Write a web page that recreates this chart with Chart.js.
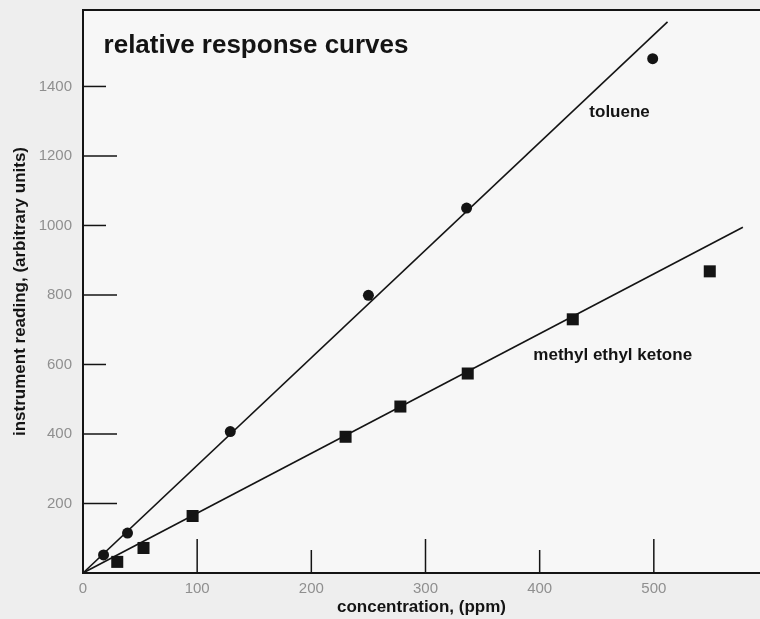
<!DOCTYPE html>
<html>
<head>
<meta charset="utf-8">
<script src="https://cdn.jsdelivr.net/npm/chart.js@4.4.1/dist/chart.umd.min.js"></script>
<style>
  html, body { margin: 0; padding: 0; background: #eeeeee; overflow: hidden; }
  #wrap { width: 760px; height: 619px; }
</style>
</head>
<body>
<div id="wrap"><canvas id="responseChart" width="760" height="619"></canvas></div>
<script>
// concentration (ppm) -> instrument reading (arbitrary units)
const tolueneX = [18, 39, 129, 250, 336, 499];
const tolueneY = [52, 115, 407, 799, 1050, 1480];
const mekX = [30, 53, 96, 230, 278, 337, 429, 549];
const mekY = [32, 72, 164, 392, 479, 574, 730, 868];

// fitted lines through the origin, start and end
const tolueneFitX = [0, 512];
const tolueneFitY = [0, 1586];
const mekFitX = [0, 578];
const mekFitY = [0, 995];

const xTicks = [0, 100, 200, 300, 400, 500];
const yTicks = [200, 400, 600, 800, 1000, 1200, 1400];

const FONT = '"Liberation Sans", Arial, sans-serif';
const INK = '#141414';

// which of the inward tick marks are the long ones
const longTicks = { x: [100, 300, 500], y: [200, 400, 800, 1200] };

// text written inside the plot, placed in data units
const notes = [
  { text: 'relative response curves', x: 18, y: 1517, size: 26, align: 'left' },
  { text: 'toluene', x: 470, y: 1327, size: 17, align: 'center' },
  { text: 'methyl ethyl ketone', x: 464, y: 626, size: 17, align: 'center' }
];

const toPoints = (xs, ys) => xs.map((x, i) => ({ x: x, y: ys[i] }));

// keep the plot box fixed, no extra room for the end labels
const noPadding = (s) => {
  s.paddingLeft = 0;
  s.paddingRight = 0;
  s.paddingTop = 0;
  s.paddingBottom = 0;
};

const paperAxes = {
  id: 'paperAxes',
  beforeDraw(chart) {
    const { ctx, chartArea: a } = chart;
    ctx.save();
    ctx.fillStyle = '#eeeeee';
    ctx.fillRect(0, 0, chart.width, chart.height);
    ctx.fillStyle = '#f7f7f7';
    ctx.fillRect(a.left, a.top, a.right - a.left, a.bottom - a.top);
    ctx.restore();
  },
  afterDraw(chart) {
    const { ctx, chartArea: a, scales } = chart;
    ctx.save();
    ctx.strokeStyle = INK;

    // top frame line
    ctx.lineWidth = 2;
    ctx.beginPath();
    ctx.moveTo(a.left, a.top);
    ctx.lineTo(a.right, a.top);
    ctx.stroke();

    // tick marks pointing into the plot
    ctx.lineWidth = 1.5;
    xTicks.forEach((v) => {
      if (v === 0) return;
      const px = scales.x.getPixelForValue(v);
      const len = longTicks.x.includes(v) ? 34 : 23;
      ctx.beginPath();
      ctx.moveTo(px, a.bottom);
      ctx.lineTo(px, a.bottom - len);
      ctx.stroke();
    });
    yTicks.forEach((v) => {
      const py = scales.y.getPixelForValue(v);
      const len = longTicks.y.includes(v) ? 34 : 23;
      ctx.beginPath();
      ctx.moveTo(a.left, py);
      ctx.lineTo(a.left + len, py);
      ctx.stroke();
    });

    // labels
    ctx.fillStyle = INK;
    ctx.textBaseline = 'middle';
    notes.forEach((n) => {
      ctx.font = 'bold ' + n.size + 'px ' + FONT;
      ctx.textAlign = n.align;
      ctx.fillText(n.text, scales.x.getPixelForValue(n.x), scales.y.getPixelForValue(n.y));
    });
    ctx.restore();
  }
};

const initResponseChart = () => {
  const ctx = document.getElementById('responseChart');
  if (!ctx)
    return;

  Chart.defaults.font.family = FONT;

  const data = {
    datasets: [
      {
        label: 'toluene fit',
        data: toPoints(tolueneFitX, tolueneFitY),
        showLine: true,
        pointRadius: 0,
        borderColor: INK,
        borderWidth: 1.6
      },
      {
        label: 'methyl ethyl ketone fit',
        data: toPoints(mekFitX, mekFitY),
        showLine: true,
        pointRadius: 0,
        borderColor: INK,
        borderWidth: 1.6
      },
      {
        label: 'toluene',
        data: toPoints(tolueneX, tolueneY),
        pointStyle: 'circle',
        pointRadius: 5.5,
        backgroundColor: INK,
        borderWidth: 0
      },
      {
        label: 'methyl ethyl ketone',
        data: toPoints(mekX, mekY),
        pointStyle: 'rect',
        pointRadius: 8.5,
        backgroundColor: INK,
        borderWidth: 0
      }
    ]
  };

  const config = {
    type: 'scatter',
    data,
    options: {
      responsive: false,
      animation: false,
      layout: {
        autoPadding: false,
        padding: { top: 10, right: 0, bottom: 0, left: 0 }
      },
      plugins: {
        legend: { display: false },
        tooltip: { enabled: false }
      },
      scales: {
        x: {
          type: 'linear',
          min: 0,
          max: 593,
          afterBuildTicks: (s) => { s.ticks = xTicks.map((v) => ({ value: v })); },
          afterFit: (s) => { s.height = 46; noPadding(s); },
          grid: { display: false, drawTicks: false },
          border: { display: true, color: INK, width: 2 },
          ticks: {
            color: '#8f8f8f',
            font: { size: 15 },
            padding: 7,
            maxRotation: 0,
            callback: (v) => String(v)
          },
          title: {
            display: true,
            text: 'concentration, (ppm)',
            color: INK,
            font: { size: 17, weight: 'bold' },
            padding: { top: 0, bottom: 1 }
          }
        },
        y: {
          type: 'linear',
          min: 0,
          max: 1620,
          afterBuildTicks: (s) => { s.ticks = yTicks.map((v) => ({ value: v })); },
          afterFit: (s) => { s.width = 83; noPadding(s); },
          grid: { display: false, drawTicks: false },
          border: { display: true, color: INK, width: 2 },
          ticks: {
            color: '#8f8f8f',
            font: { size: 15 },
            padding: 11,
            callback: (v) => String(v)
          },
          title: {
            display: true,
            text: 'instrument reading, (arbitrary units)',
            color: INK,
            font: { size: 17, weight: 'bold' },
            padding: { top: 10, bottom: 0 }
          }
        }
      }
    },
    plugins: [paperAxes]
  };

  new Chart(ctx, config);
};

initResponseChart();
</script>
</body>
</html>
